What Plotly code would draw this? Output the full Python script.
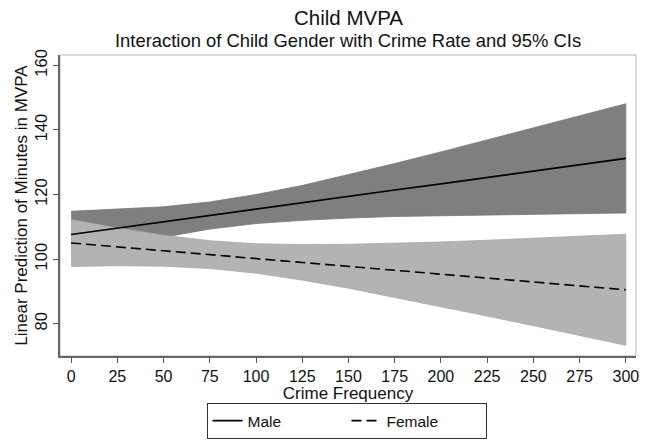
import plotly.graph_objects as go

crime = [0, 25, 50, 75, 100, 125, 150, 175, 200, 225, 250, 275, 300]

male_mean = [107.6, 109.6, 111.5, 113.5, 115.5, 117.4, 119.4, 121.4, 123.3, 125.3, 127.3, 129.2, 131.2]
male_upper = [114.8, 115.4, 116.2, 117.7, 120.0, 122.8, 126.1, 129.6, 133.2, 136.9, 140.6, 144.3, 148.1]
male_lower = [100.4, 103.8, 106.8, 109.3, 111.0, 112.0, 112.7, 113.2, 113.4, 113.7, 114.0, 114.1, 114.3]

female_mean = [105.0, 103.8, 102.6, 101.4, 100.2, 99.0, 97.8, 96.5, 95.3, 94.1, 92.9, 91.7, 90.5]
female_upper = [112.25, 109.65, 107.4, 105.7, 104.75, 104.5, 104.6, 104.85, 105.3, 105.85, 106.4, 107.0, 107.7]
female_lower = [97.75, 97.95, 97.8, 97.1, 95.65, 93.5, 91.0, 88.15, 85.3, 82.35, 79.4, 76.4, 73.3]

x_ticks = [0, 25, 50, 75, 100, 125, 150, 175, 200, 225, 250, 275, 300]
y_ticks = [80, 100, 120, 140, 160]

FONT = "Liberation Sans, Arial, sans-serif"
TXT = "#111111"

fig = go.Figure()

# Male CI band
fig.add_trace(go.Scatter(x=crime + crime[::-1], y=male_upper + male_lower[::-1],
                         fill="toself", fillcolor="#7f7f7f", mode="lines",
                         line=dict(color="#767676", width=0.8), showlegend=False,
                         hoverinfo="skip"))
# Female CI band
fig.add_trace(go.Scatter(x=crime + crime[::-1], y=female_upper + female_lower[::-1],
                         fill="toself", fillcolor="#b3b3b3", mode="lines",
                         line=dict(color="#aaaaaa", width=0.8), showlegend=False,
                         hoverinfo="skip"))
# Lines
fig.add_trace(go.Scatter(x=crime, y=male_mean, mode="lines", name="Male",
                         line=dict(color="black", width=1.6)))
fig.add_trace(go.Scatter(x=crime, y=female_mean, mode="lines", name="Female",
                         line=dict(color="black", width=1.6, dash="10px,5px")))

fig.update_layout(
    width=652, height=441,
    paper_bgcolor="white", plot_bgcolor="white",
    margin=dict(l=60, r=16, t=55, b=85, autoexpand=False),
    font=dict(family=FONT, color=TXT),
    showlegend=True,
    legend=dict(orientation="h", x=346.5 / 652, xref="container", xanchor="center",
                y=2 / 441, yref="container", yanchor="bottom",
                bordercolor="#333333", borderwidth=1, font=dict(size=15.5, color=TXT),
                entrywidth=94, entrywidthmode="pixels", tracegroupgap=0),
)

fig.add_annotation(text="Child MVPA", xref="paper", yref="paper", x=0.5, y=1,
                   yshift=38, xanchor="center", yanchor="middle",
                   showarrow=False, font=dict(size=20.5, family=FONT, color=TXT))
fig.add_annotation(text="Interaction of Child Gender with Crime Rate and 95% CIs",
                   xref="paper", yref="paper", x=0.5, y=1, yshift=15,
                   xanchor="center", yanchor="middle",
                   showarrow=False, font=dict(size=18.4, family=FONT, color=TXT))

fig.update_xaxes(range=[-6, 305.5], tickvals=x_ticks, ticktext=[str(v) for v in x_ticks],
                 ticks="outside", ticklen=5, tickcolor="#555555", tickwidth=1,
                 showline=True, linecolor="#666666", linewidth=1.5, automargin=False,
                 mirror=False, showgrid=False, zeroline=False,
                 tickfont=dict(size=16, color=TXT),
                 title=dict(text="Crime Frequency", font=dict(size=17, color=TXT), standoff=3))
fig.update_yaxes(range=[70, 163.2], tickvals=y_ticks, ticktext=[str(v) for v in y_ticks],
                 ticks="outside", ticklen=5, tickcolor="#555555", tickwidth=1, tickangle=-90,
                 showline=True, linecolor="#666666", linewidth=1.5, automargin=False,
                 mirror=False, showgrid=False, zeroline=False,
                 tickfont=dict(size=16.5, color=TXT),
                 title=dict(text="Linear Prediction of Minutes in MVPA",
                            font=dict(size=17, color=TXT), standoff=0))

# light frame around the plot region
fig.add_shape(type="rect", xref="paper", yref="paper", x0=0, y0=0, x1=1, y1=1,
              line=dict(color="#b8b8b8", width=1), layer="below")

fig.write_html("out.html", config={"displayModeBar": False},
               post_script="document.body.style.margin='0';document.body.style.padding='0';")
